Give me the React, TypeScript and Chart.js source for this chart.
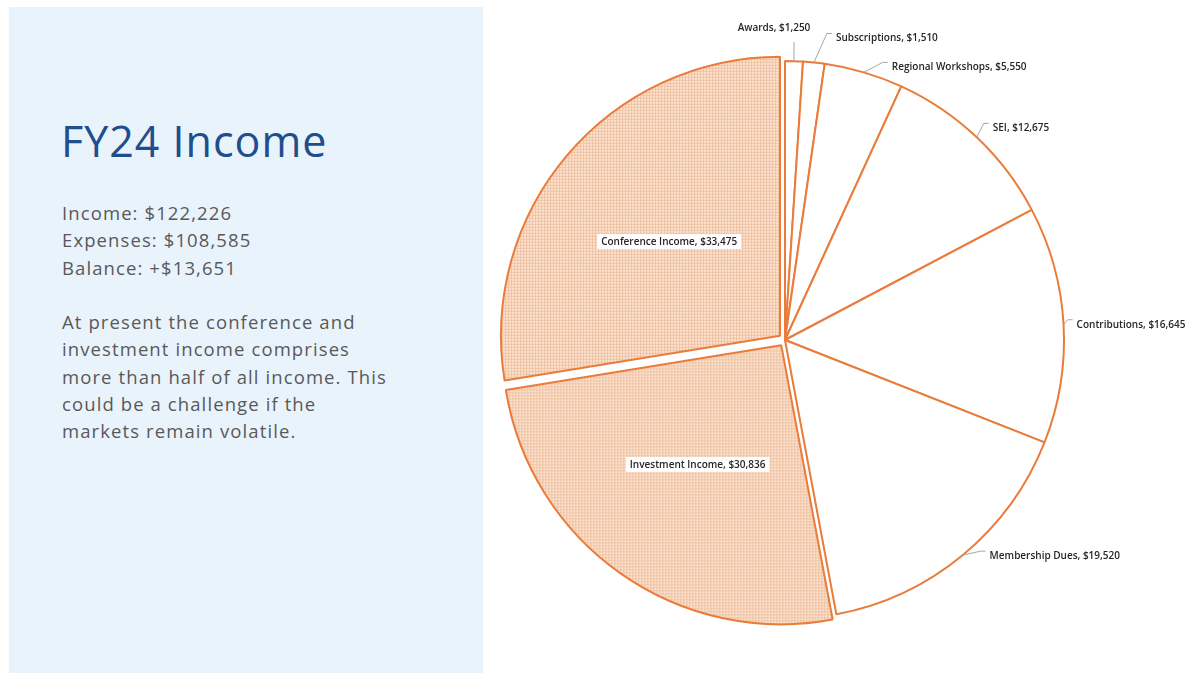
import React, { useEffect, useRef } from "react";
import { Chart, registerables } from "chart.js";

Chart.register(...registerables);

const categories = [
  "Awards",
  "Subscriptions",
  "Regional Workshops",
  "SEI",
  "Contributions",
  "Membership Dues",
  "Investment Income",
  "Conference Income",
];
const values = [1250, 1510, 5550, 12675, 16645, 19520, 30836, 33475];
const highlighted = [false, false, false, false, false, false, true, true];

const summaryLines = ["Income: $122,226", "Expenses: $108,585", "Balance: +$13,651"];
const noteLines = [
  "At present the conference and",
  "investment income comprises",
  "more than half of all income. This",
  "could be a challenge if the",
  "markets remain volatile.",
];

// label layout (relative to each slice's own anchor on the rim)
const leaderLayout: ({ dx: number; dy: number; mode: string } | null)[] = [
  { dx: 0, dy: -19, mode: "above" },
  { dx: 13, dy: -29, mode: "right" },
  { dx: 19, dy: -10, mode: "right" },
  { dx: 7, dy: -14, mode: "right" },
  { dx: 4, dy: -5, mode: "right" },
  { dx: 18, dy: -4, mode: "right" },
  null,
  null,
];

const BORDER = "#e97c3b";
const LABEL_FONT = "600 10px 'Open Sans'";

function makePattern(): CanvasPattern | string {
  const c = document.createElement("canvas");
  c.width = 3;
  c.height = 3;
  const g = c.getContext("2d");
  if (!g) return "#f6d9c4";
  g.fillStyle = "#fbe4d3";
  g.fillRect(0, 0, 3, 3);
  g.fillStyle = "#f0c3a2";
  g.fillRect(0, 0, 3, 1);
  g.fillRect(0, 0, 1, 3);
  const p = g.createPattern(c, "repeat");
  return p || "#f6d9c4";
}

const fmt = (v: number) => "$" + v.toLocaleString("en-US");

const labelPlugin = {
  id: "sliceLabels",
  afterDatasetsDraw(chart: any) {
    const meta = chart.getDatasetMeta(0);
    const ctx: CanvasRenderingContext2D = chart.ctx;
    ctx.save();
    ctx.font = LABEL_FONT;
    ctx.textBaseline = "middle";
    meta.data.forEach((arc: any, i: number) => {
      const { x, y, startAngle, endAngle, outerRadius } = arc.getProps(
        ["x", "y", "startAngle", "endAngle", "outerRadius"],
        true
      );
      const mid = (startAngle + endAngle) / 2;
      const cs = Math.cos(mid);
      const sn = Math.sin(mid);
      const text = `${categories[i]}, ${fmt(values[i])}`;
      const lay = leaderLayout[i];
      if (!lay) {
        const d = outerRadius * 0.545;
        const px = x + cs * d;
        const py = y + sn * d;
        const w = ctx.measureText(text).width + 8;
        const h = 15;
        ctx.fillStyle = "#ffffff";
        ctx.fillRect(px - w / 2, py - h / 2, w, h);
        ctx.fillStyle = "#262626";
        ctx.textAlign = "center";
        ctx.fillText(text, px, py + 0.5);
        return;
      }
      const ax = x + cs * outerRadius;
      const ay = y + sn * outerRadius;
      const ex = ax + lay.dx;
      const ey = ay + lay.dy;
      ctx.strokeStyle = "#a6a6a6";
      ctx.lineWidth = 1;
      ctx.beginPath();
      ctx.moveTo(ax, ay);
      ctx.lineTo(ex, ey);
      if (lay.mode === "right") ctx.lineTo(ex + 5, ey);
      ctx.stroke();
      ctx.fillStyle = "#262626";
      if (lay.mode === "above") {
        ctx.textAlign = "center";
        ctx.fillText(text, ex - 20, ey - 14);
      } else {
        ctx.textAlign = "left";
        ctx.fillText(text, ex + 9, ey + 5);
      }
    });
    ctx.restore();
  },
};

function PieChart() {
  const ref = useRef<HTMLCanvasElement>(null);
  useEffect(() => {
    if (!ref.current) return;
    const pattern = makePattern();
    const chart = new Chart(ref.current, {
      type: "pie",
      data: {
        labels: categories,
        datasets: [
          {
            data: values,
            backgroundColor: highlighted.map((h) => (h ? pattern : "#ffffff")) as any,
            borderColor: BORDER,
            borderWidth: 2,
            offset: highlighted.map((h) => (h ? 26 : 0)),
          },
        ],
      },
      options: {
        animation: false,
        responsive: false,
        radius: 279,
        layout: { padding: { left: 490, right: 108, top: 40, bottom: 33 } },
        plugins: {
          legend: { display: false },
          tooltip: { enabled: false },
        },
      } as any,
      plugins: [labelPlugin],
    });
    return () => chart.destroy();
  }, []);
  return (
    <canvas
      ref={ref}
      width={1188}
      height={673}
      style={{ position: "absolute", left: 0, top: 0, width: 1188, height: 673 }}
    />
  );
}

export default function App() {
  const textStyle: React.CSSProperties = {
    fontFamily: "'Open Sans', sans-serif",
    fontWeight: 400,
    fontSize: 18.5,
    lineHeight: "27.3px",
    letterSpacing: "1.1px",
    color: "#595959",
    whiteSpace: "nowrap",
  };
  return (
    <div style={{ position: "absolute", left: 0, top: 0, width: 1188, height: 673, background: "#ffffff", overflow: "hidden" }}>
      <div
        style={{
          position: "absolute",
          left: 9,
          top: 7,
          width: 474,
          height: 666,
          background: "#e9f3fc",
        }}
      />
      <div
        style={{
          position: "absolute",
          left: 61,
          top: 112,
          fontFamily: "'Open Sans', sans-serif",
          fontWeight: 400,
          fontSize: 43,
          lineHeight: "58px",
          letterSpacing: "1px",
          color: "#1f4e8c",
          whiteSpace: "nowrap",
        }}
      >
        FY24 Income
      </div>
      <div style={{ position: "absolute", left: 62, top: 199, ...textStyle }}>
        {summaryLines.map((l) => (
          <div key={l}>{l}</div>
        ))}
        <div style={{ marginTop: 27.3 }}>
          {noteLines.map((l) => (
            <div key={l}>{l}</div>
          ))}
        </div>
      </div>
      <PieChart />
    </div>
  );
}
